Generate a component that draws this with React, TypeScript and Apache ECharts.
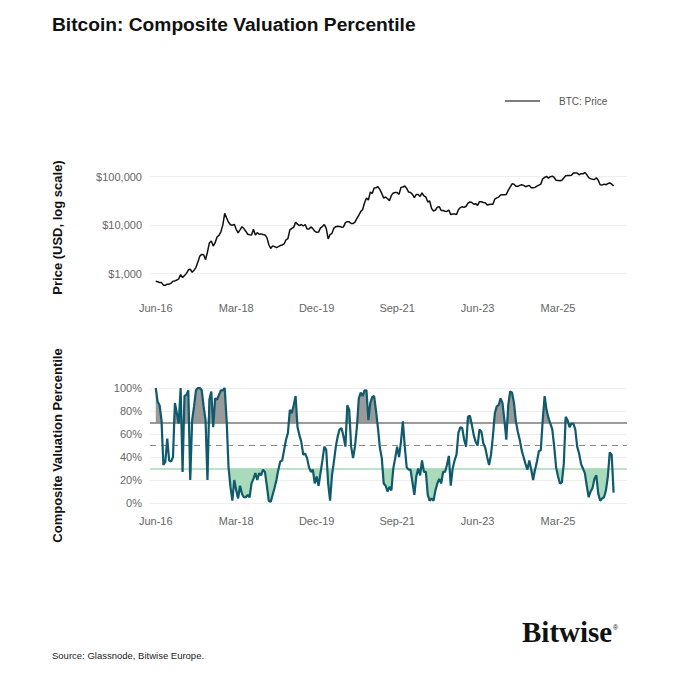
import React, { useEffect, useRef } from "react";
import * as echarts from "echarts";

const FONT = "'Liberation Sans', Arial, sans-serif";
const MONTHS = ["Jan","Feb","Mar","Apr","May","Jun","Jul","Aug","Sep","Oct","Nov","Dec"];

// Semi-monthly samples from Jun 2016 (first half) to May 2026 (second half): 240 points
const btcPrice: number[] = [
  // 2016 Jun-Dec
  700, 680, 660, 655, 580, 575, 607, 608, 640, 700, 710, 740, 780, 960,
  // 2017
  830, 920, 1010, 1190, 1240, 1070, 1180, 1350, 1750, 2300, 2500, 2450,
  1950, 2800, 4300, 4700, 3700, 4350, 5700, 6150, 7300, 10000, 17500, 14000,
  // 2018
  11500, 10200, 10000, 10400, 8200, 6900, 8000, 9300, 8500, 7500, 6500, 6350,
  6300, 8200, 6300, 7000, 6500, 6600, 6400, 6300, 5600, 4000, 3300, 3750,
  // 2019
  3600, 3450, 3600, 3800, 3900, 4100, 5000, 5300, 8000, 8600, 9000, 11500,
  10500, 9800, 10300, 9600, 10300, 8300, 8300, 9200, 8500, 7500, 7100, 7200,
  // 2020
  8800, 9350, 10300, 8600, 5200, 6400, 6800, 8700, 9300, 9450, 9400, 9100,
  9200, 11300, 11800, 11700, 10800, 10800, 11500, 13800, 16000, 19000, 21000, 29000,
  // 2021
  36000, 33000, 48000, 45000, 58000, 59000, 62000, 54000, 45000, 36000, 38000, 35000,
  32000, 41000, 46000, 47000, 47000, 43000, 60000, 61000, 64000, 57000, 48000, 47000,
  // 2022
  43000, 37000, 43000, 43000, 39000, 46000, 40000, 38000, 30000, 31500, 22000, 19500,
  20500, 23500, 24000, 20000, 20000, 19400, 19200, 20500, 16500, 17000, 17000, 16500,
  // 2023
  20800, 23000, 24000, 23200, 24500, 28500, 30000, 29300, 27000, 27700, 25500, 30500,
  30300, 29300, 29000, 26000, 26600, 27000, 27000, 34500, 36500, 37800, 42000, 42500,
  // 2024
  42500, 43000, 52000, 61000, 71000, 70000, 63000, 63000, 66000, 68000, 66000, 62000,
  64000, 66000, 59000, 59000, 60000, 63500, 67000, 70000, 90000, 96000, 101000, 93000,
  // 2025
  100000, 102000, 96000, 84000, 83000, 82000, 84000, 94000, 104000, 105000, 106000, 107000,
  118000, 118000, 118000, 109000, 115000, 114000, 121000, 110000, 95000, 91000, 88000, 87000,
  // 2026 Jan-May
  95000, 84000, 68000, 67000, 70000, 68000, 72000, 74000, 70000, 64000,
];

const valuationPct: number[] = [
  100, 88, 85, 72, 33, 36, 56, 37, 36, 40,
  87, 78, 69, 100, 27, 93, 94, 98, 20, 72,
  84, 98, 100, 100, 98, 84, 72, 20, 90, 97,
  66, 91, 90, 94, 98, 98, 100, 72, 31, 14,
  2, 20, 11, 4, 15, 8, 5, 5, 7, 5,
  17, 21, 26, 20, 26, 24, 29, 27, 15, 2,
  1, 7, 13, 20, 29, 36, 37, 46, 55, 61,
  81, 78, 85, 93, 66, 59, 53, 42, 43, 39,
  31, 27, 29, 17, 23, 15, 26, 37, 49, 46,
  17, 2, 24, 36, 49, 58, 64, 65, 58, 49,
  85, 81, 49, 39, 49, 66, 91, 96, 93, 98,
  98, 72, 87, 92, 93, 80, 65, 48, 39, 17,
  15, 10, 14, 11, 30, 39, 49, 40, 53, 71,
  49, 31, 29, 29, 18, 7, 23, 30, 24, 37,
  27, 27, 7, 2, 4, 2, 11, 17, 21, 17,
  27, 27, 33, 41, 15, 30, 37, 42, 61, 66,
  65, 55, 49, 75, 76, 68, 59, 53, 50, 64,
  62, 52, 48, 40, 33, 42, 58, 78, 84, 85,
  91, 87, 72, 55, 85, 97, 96, 87, 71, 62,
  55, 46, 40, 34, 29, 37, 29, 20, 29, 36,
  45, 46, 72, 93, 81, 74, 69, 64, 49, 31,
  23, 17, 18, 34, 75, 72, 66, 69, 69, 64,
  49, 43, 34, 30, 26, 15, 5, 10, 13, 21,
  24, 8, 2, 4, 5, 11, 23, 44, 42, 9,
];

const priceTicks = [1000, 10000, 100000];
const pctThresholds = { high: 70, mid: 50, low: 30 };

const LEAD = 3; // empty half-month slots before first point
const TAIL = 7; // empty half-month slots after last point
const LABEL_EVERY = 42; // 21 months

function buildCategories(): string[] {
  const total = LEAD + btcPrice.length + TAIL;
  const out: string[] = [];
  for (let j = 0; j < total; j++) {
    const k = j - LEAD;
    const m = Math.floor(k / 2);
    const idx = 2016 * 12 + 5 + m;
    const y = Math.floor(idx / 12);
    const mon = MONTHS[((idx % 12) + 12) % 12];
    out.push(`${mon}-${String(y).slice(2)}#${k}`);
  }
  return out;
}

function pad(arr: (number | null)[]): (number | null)[] {
  return [...Array(LEAD).fill(null), ...arr, ...Array(TAIL).fill(null)];
}

export default function App() {
  const ref = useRef<HTMLDivElement>(null);
  useEffect(() => {
    if (!ref.current) return;
    const chart = echarts.init(ref.current, undefined, { renderer: "svg" });
    const cats = buildCategories();
    const labelInterval = (index: number) => {
      const k = index - LEAD;
      return k >= 0 && k % LABEL_EVERY === 0;
    };
    const labelFmt = (v: string) => v.split("#")[0];
    const xBase = {
      type: "category",
      data: cats,
      boundaryGap: false,
      axisLine: { show: false },
      axisTick: { show: false },
      splitLine: { show: false },
    };
    const axisLabelBase = {
      interval: labelInterval,
      formatter: labelFmt,
      fontSize: 11,
      color: "#666",
      fontFamily: FONT,
    };
    const nameStyle = { fontWeight: "bold", fontSize: 13, color: "#111", fontFamily: FONT };

    const above = pad(valuationPct.map((v) => Math.max(v, pctThresholds.high)));
    const below = pad(valuationPct.map((v) => Math.min(v, pctThresholds.low)));

    chart.setOption({
      animation: false,
      backgroundColor: "#ffffff",
      textStyle: { fontFamily: FONT },
      title: {
        text: "Bitcoin: Composite Valuation Percentile",
        left: 52,
        top: 15,
        padding: 0,
        textStyle: { fontSize: 19.2, fontWeight: "bold", color: "#111", fontFamily: FONT },
      },
      legend: {
        data: ["BTC: Price"],
        left: 505,
        top: 96,
        padding: 0,
        icon: "rect",
        itemWidth: 35,
        itemHeight: 1.5,
        itemStyle: { color: "#555" },
        textStyle: { fontSize: 10, color: "#555", fontFamily: FONT, padding: [0, 0, 0, 14] },
      },
      grid: [
        { left: 150, right: 53, top: 162, height: 131 },
        { left: 150, right: 53, top: 388, height: 115 },
      ],
      xAxis: [
        { ...xBase, gridIndex: 0, axisLabel: { ...axisLabelBase, margin: 9 } },
        { ...xBase, gridIndex: 1, axisLabel: { ...axisLabelBase, margin: 12 } },
      ],
      yAxis: [
        {
          type: "log",
          logBase: 10,
          gridIndex: 0,
          min: 400,
          max: 200000,
          name: "Price (USD, log scale)",
          nameLocation: "middle",
          nameRotate: 90,
          nameGap: 86,
          nameTextStyle: nameStyle,
          axisLine: { show: false },
          axisTick: { show: false },
          axisLabel: {
            showMinLabel: false,
            showMaxLabel: false,
            fontSize: 11,
            color: "#666",
            margin: 8,
            fontFamily: FONT,
            formatter: (v: number) => {
              const r = Math.round(v);
              return priceTicks.includes(r) ? "$" + r.toLocaleString("en-US") : "";
            },
          },
          splitLine: { show: true, showMinLine: false, showMaxLine: false, lineStyle: { color: "#eeeeee", width: 1 } },
        },
        {
          type: "value",
          gridIndex: 1,
          min: 0,
          max: 100,
          interval: 20,
          name: "Composite Valuation Percentile",
          nameLocation: "middle",
          nameRotate: 90,
          nameGap: 86,
          nameTextStyle: nameStyle,
          axisLine: { show: false },
          axisTick: { show: false },
          axisLabel: { fontSize: 11, color: "#666", margin: 8, fontFamily: FONT, formatter: (v: number) => v + "%" },
          splitLine: { show: true, lineStyle: { color: "#eeeeee", width: 1 } },
        },
      ],
      series: [
        {
          name: "BTC: Price",
          type: "line",
          xAxisIndex: 0,
          yAxisIndex: 0,
          data: pad(btcPrice),
          symbol: "none",
          showSymbol: false,
          lineStyle: { color: "#111", width: 1.5 },
          itemStyle: { color: "#111" },
        },
        {
          name: "above",
          type: "line",
          xAxisIndex: 1,
          yAxisIndex: 1,
          data: above,
          symbol: "none",
          silent: true,
          lineStyle: { width: 0, opacity: 0 },
          areaStyle: { color: "#9a9a9a", opacity: 1, origin: pctThresholds.high },
          z: 1,
        },
        {
          name: "below",
          type: "line",
          xAxisIndex: 1,
          yAxisIndex: 1,
          data: below,
          symbol: "none",
          silent: true,
          lineStyle: { width: 0, opacity: 0 },
          areaStyle: { color: "#a9dabb", opacity: 1, origin: pctThresholds.low },
          z: 1,
          markLine: {
            silent: true,
            symbol: ["none", "none"],
            label: { show: false },
            data: [
              { yAxis: pctThresholds.high, lineStyle: { color: "#7a7a7a", width: 1.5, type: "solid" } },
              { yAxis: pctThresholds.mid, lineStyle: { color: "#8a8a8a", width: 1.2, type: [6, 5] } },
              { yAxis: pctThresholds.low, lineStyle: { color: "#a6d8b8", width: 1.5, type: "solid" } },
            ],
          },
        },
        {
          name: "Composite Valuation Percentile",
          type: "line",
          xAxisIndex: 1,
          yAxisIndex: 1,
          data: pad(valuationPct),
          symbol: "none",
          showSymbol: false,
          lineStyle: { color: "#0f5a6c", width: 2.2 },
          z: 5,
        },
      ],
      graphic: [
        {
          type: "text",
          left: 52,
          top: 650,
          style: { text: "Source: Glassnode, Bitwise Europe.", fontSize: 9.5, fill: "#222", fontFamily: FONT },
        },
        {
          type: "text",
          left: 522,
          top: 617,
          style: { text: "Bitwise", fontSize: 29, fontWeight: "bold", fill: "#111", fontFamily: "'Liberation Serif', 'DejaVu Serif', serif" },
        },
        {
          type: "text",
          left: 613,
          top: 624,
          style: { text: "®", fontSize: 7, fill: "#111", fontFamily: FONT },
        },
      ],
    });
    return () => chart.dispose();
  }, []);
  return (
    <div
      ref={ref}
      style={{ position: "absolute", left: 0, top: 0, width: 680, height: 680, background: "#fff" }}
    />
  );
}
